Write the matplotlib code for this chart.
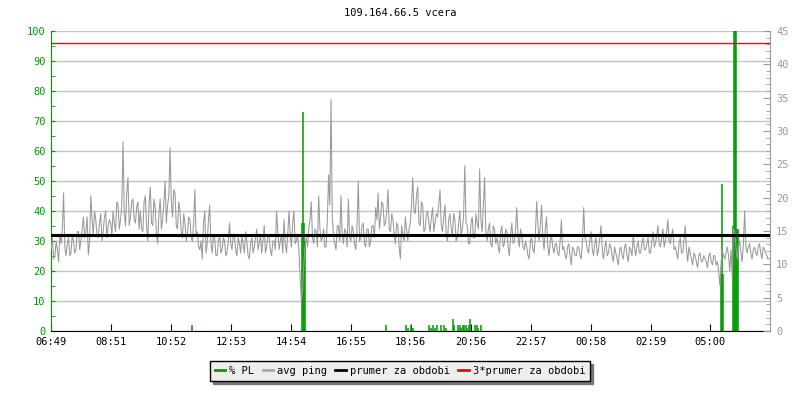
import numpy as np
import matplotlib
matplotlib.use("Agg")
import matplotlib.pyplot as plt
from matplotlib.lines import Line2D

# avg ping [ms], one value every 5 minutes starting at 06:49
ping = [
    12.2, 10.8, 13.5, 10.4, 13.1, 20.7, 11.3, 14.0, 11.7, 13.5, 12.2, 14.9,
    13.5, 17.1, 14.9, 11.4, 20.3, 14.4, 16.7, 14.0, 17.6, 14.9, 18.0, 15.8,
    16.2, 18.0, 14.9, 18.9, 16.7, 28.4, 15.8, 23.0, 17.1, 19.8, 16.2, 19.4,
    18.0, 14.9, 20.3, 13.5, 21.6, 15.8, 18.5, 13.1, 19.8, 16.7, 22.5, 18.9,
    27.5, 17.1, 20.7, 15.3, 18.0, 14.0, 16.2, 14.4, 16.7, 13.5, 21.2, 14.9,
    12.2, 10.8, 18.0, 13.1, 18.9, 11.7, 14.0, 11.3, 14.4, 12.2, 13.5, 11.7,
    16.2, 12.2, 14.0, 11.3, 13.1, 14.4, 11.7, 13.5, 10.8, 14.0, 12.6, 15.3,
    13.1, 11.7, 15.8, 12.6, 14.0, 11.3, 13.5, 18.0, 12.2, 14.4, 16.7, 11.7,
    18.0, 12.6, 18.0, 13.5, 12.2, 4.5, 9.9, 14.0, 15.3, 19.4, 13.1, 14.9,
    20.3, 13.5, 15.3, 12.6, 23.4, 34.7, 14.4, 12.2, 15.8, 20.3, 13.1, 14.9,
    19.8, 13.5, 14.9, 12.2, 22.5, 14.0, 16.2, 12.6, 15.3, 13.5, 15.8, 18.5,
    20.7, 17.1, 18.9, 16.2, 21.2, 14.9, 16.7, 13.1, 15.8, 10.8, 14.4, 17.1,
    13.5, 16.2, 23.0, 17.6, 21.6, 15.8, 18.9, 15.3, 18.0, 14.9, 18.5, 16.2,
    17.1, 21.2, 14.9, 18.9, 13.5, 17.6, 14.4, 16.7, 14.0, 18.0, 15.3, 24.8,
    15.8, 13.1, 17.1, 14.0, 16.2, 24.3, 14.9, 23.0, 13.5, 16.2, 12.6, 15.3,
    14.0, 11.7, 15.8, 13.1, 14.9, 11.3, 16.2, 13.5, 18.5, 12.6, 14.4, 12.2,
    12.6, 10.8, 14.0, 11.7, 19.4, 13.5, 18.9, 12.2, 17.1, 11.3, 14.4, 11.7,
    13.1, 11.3, 16.7, 12.6, 10.8, 13.1, 9.9, 12.2, 11.3, 12.6, 10.8, 18.5,
    13.5, 11.7, 14.9, 11.3, 14.0, 12.2, 15.8, 10.8, 13.5, 11.7, 12.6, 10.4,
    11.7, 9.9, 12.6, 10.8, 13.1, 10.4, 12.2, 14.4, 11.3, 13.5, 11.7, 14.0,
    12.2, 14.0, 11.7, 14.9, 13.1, 15.8, 12.6, 15.3, 13.5, 16.7, 13.1, 15.3,
    12.6, 10.8, 14.0, 11.7, 15.8, 10.4, 11.7, 9.9, 11.3, 9.5, 11.7, 10.4,
    10.8, 9.5, 11.7, 9.9, 11.3, 10.4, 6.8, 12.2, 10.8, 12.6, 9.0, 8.1,
    14.9, 10.8, 13.5, 10.4, 18.0, 11.7, 13.1, 10.8, 12.6, 11.3, 13.1, 10.8,
    12.2, 11.3,
]
# avg ping [ms] read half-way between the samples above (2.5 min later)
ping_half = [
    14.0, 11.3, 12.2, 14.4, 15.3, 12.6, 13.1, 11.3, 14.4, 11.7, 14.9, 12.2,
    15.3, 14.0, 17.1, 13.5, 16.7, 18.0, 14.4, 16.2, 13.5, 17.1, 14.0, 16.7,
    14.4, 16.2, 19.4, 15.3, 18.9, 17.6, 20.7, 15.8, 19.4, 16.7, 18.5, 15.3,
    15.3, 19.4, 15.8, 18.9, 16.2, 19.8, 14.4, 17.6, 15.3, 19.4, 16.2, 20.3,
    19.4, 21.2, 15.8, 19.4, 14.9, 17.6, 13.5, 17.1, 14.0, 16.2, 14.4, 12.6,
    13.5, 16.2, 11.7, 16.7, 13.1, 14.4, 11.3, 13.5, 11.7, 14.0, 11.3, 13.5,
    13.1, 14.4, 12.2, 14.0, 11.7, 13.1, 14.9, 11.3, 13.1, 11.7, 14.0, 12.2,
    14.4, 13.5, 11.7, 14.4, 12.2, 13.5, 12.2, 14.9, 13.5, 11.7, 13.1, 14.4,
    14.4, 16.2, 13.1, 14.4, 8.1, 6.3, 12.6, 12.6, 16.7, 14.0, 15.3, 12.6,
    15.3, 14.0, 12.6, 16.7, 18.9, 17.1, 13.1, 15.8, 13.5, 14.4, 15.3, 12.6,
    14.0, 15.8, 13.1, 15.8, 13.5, 15.8, 13.1, 15.3, 12.6, 15.8, 14.0, 16.7,
    15.3, 19.4, 15.8, 18.0, 15.3, 17.6, 14.4, 16.2, 12.6, 15.8, 13.5, 15.3,
    15.3, 18.9, 18.0, 20.3, 16.2, 19.4, 14.9, 17.6, 16.2, 17.1, 14.9, 17.6,
    18.9, 15.8, 17.1, 14.4, 16.7, 15.3, 17.6, 13.5, 16.2, 14.4, 17.1, 16.2,
    13.1, 16.2, 14.0, 17.6, 15.3, 16.7, 18.9, 14.9, 15.3, 13.1, 15.8, 13.1,
    12.6, 14.9, 12.6, 15.3, 12.6, 14.4, 13.1, 15.3, 14.0, 15.3, 12.6, 13.5,
    11.3, 13.5, 12.2, 14.4, 16.2, 15.8, 14.0, 15.3, 12.6, 13.5, 12.6, 13.1,
    11.7, 13.5, 12.2, 11.3, 12.6, 11.3, 12.6, 11.3, 12.6, 11.3, 13.5, 14.0,
    12.2, 13.5, 12.2, 13.1, 11.3, 14.0, 12.2, 12.6, 11.3, 13.1, 11.3, 12.6,
    10.8, 12.2, 11.3, 12.6, 11.3, 12.6, 11.3, 12.6, 12.6, 11.7, 13.1, 12.2,
    13.1, 11.7, 13.5, 12.6, 14.4, 13.1, 14.0, 12.6, 14.9, 13.5, 14.4, 12.2,
    11.7, 13.1, 11.7, 13.5, 12.2, 12.6, 10.8, 11.7, 10.4, 11.3, 10.4, 11.3,
    10.4, 11.3, 10.4, 11.3, 9.9, 9.0, 10.4, 11.3, 11.7, 11.3, 12.2, 15.3,
    12.6, 12.6, 11.7, 13.1, 12.6, 12.6, 11.7, 12.2, 11.7, 12.6, 11.7, 12.6,
    11.7, 10.8,
]
ping_min = np.arange(len(ping)) * 5

# packet loss [%]
pl_min = [285, 506, 508, 510, 512, 676, 716, 720, 727, 730, 762, 766, 771, 774,
          779, 786, 794, 798, 811, 814, 821, 825, 828, 831, 834, 837, 840, 843,
          846, 855, 860, 862, 868, 1353, 1354, 1357, 1376, 1378, 1380, 1382,
          1384, 1386]
pl_val = [2, 36, 73, 36, 30, 2, 2, 1, 2, 1, 2, 1, 2, 1,
          2, 2, 2, 1, 4, 2, 2, 2, 1, 2, 2, 2, 1, 2,
          4, 2, 2, 1, 2, 19, 49, 19, 35, 100, 100, 100,
          34, 34]

prumer = 14.4  # ms
xticks_lbl = ['06:49', '08:51', '10:52', '12:53', '14:54', '16:55', '18:56',
              '20:56', '22:57', '00:58', '02:59', '05:00']

green = '#009900'
gray = '#999999'
plt.rcParams['font.family'] = 'DejaVu Sans Mono'
plt.rcParams['font.size'] = 7.5

fig = plt.figure(figsize=(8, 4), dpi=100)
ax = fig.add_axes([0.064, 0.1725, 0.899, 0.75])
ax2 = ax.twinx()

ax.set_xlim(0, 1452)
ax.set_ylim(0, 100)
ax2.set_ylim(0, 45)

ax.yaxis.grid(True, color='#c4c4c4', linewidth=1.0)
ax.set_axisbelow(True)

# both sample sets merged in time order
t = np.column_stack([ping_min, ping_min + 2.5]).ravel()
v = np.column_stack([ping, ping_half]).ravel()

ax.vlines(pl_min, 0, pl_val, color=green, linewidth=1.1, zorder=2)
ax2.plot(t, v, color=gray, linewidth=0.75, zorder=3)
ax2.axhline(prumer, color='black', linewidth=2.2, zorder=4)
ax2.axhline(3 * prumer, color='red', linewidth=1.0, zorder=5)

ax.set_xticks(np.arange(len(xticks_lbl)) * 121)
ax.set_xticklabels(xticks_lbl)
ax.set_yticks(np.arange(0, 101, 10))
ax.set_yticks(np.arange(5, 100, 10), minor=True)
ax2.set_yticks(np.arange(0, 46, 5))
ax2.set_yticks(np.arange(0, 46, 1), minor=True)

ax.tick_params(axis='x', direction='in', length=5, color='black', pad=4)
ax.tick_params(axis='y', which='both', direction='in', length=3,
               color=green, labelcolor=green, pad=4)
ax2.tick_params(axis='y', which='major', direction='in', length=5,
                color=gray, labelcolor=gray, pad=4)
ax2.tick_params(axis='y', which='minor', direction='in', length=3, color=gray)

for s in ['top', 'right']:
    ax.spines[s].set_visible(False)
ax.spines['left'].set_color(green)
ax.spines['bottom'].set_color('black')
for s in ['top', 'left', 'bottom']:
    ax2.spines[s].set_visible(False)
ax2.spines['right'].set_color(gray)

fig.text(0.5, 0.967, '109.164.66.5 vcera', ha='center', va='center', fontsize=7.5)

handles = [Line2D([], [], color=green, lw=2),
           Line2D([], [], color='#aaaaaa', lw=2),
           Line2D([], [], color='black', lw=2),
           Line2D([], [], color='red', lw=2)]
labels = ['% PL', 'avg ping', 'prumer za obdobi', '3*prumer za obdobi']
fig.legend(handles, labels, loc='center', bbox_to_anchor=(0.5, 0.0725), ncol=4,
           frameon=True, fancybox=False, edgecolor='black', facecolor='#eeeeee',
           framealpha=1, shadow={'ox': 2.2, 'oy': -2.2, 'color': '#777777', 'alpha': 1},
           handlelength=1.0, handletextpad=0.4, columnspacing=0.8,
           borderpad=0.45, fontsize=7.5)

fig.savefig('out.png', dpi=100)
